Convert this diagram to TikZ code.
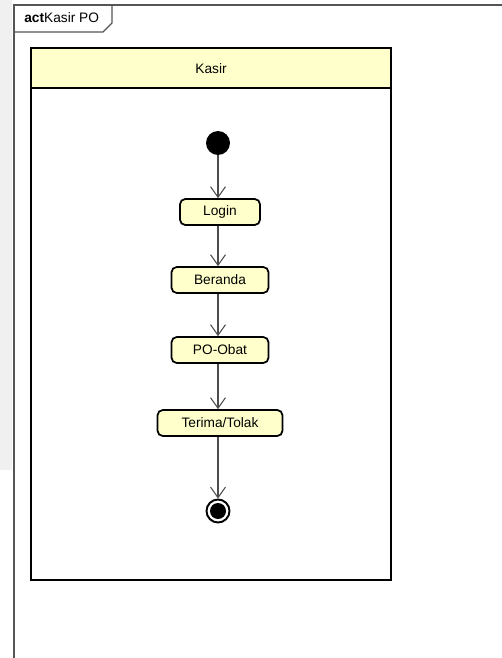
\documentclass[tikz,border=0pt]{standalone}
\usepackage{fontspec}
\setmainfont{Liberation Sans}
\usetikzlibrary{arrows.meta}
\definecolor{umlyellow}{HTML}{FFFFCC}
\definecolor{framegray}{HTML}{555555}
\begin{document}
\begin{tikzpicture}[
    x=0.02cm, y=-0.02cm,
    action/.style={draw, line width=1pt, rounded corners=3pt, fill=umlyellow,
                   minimum height=0.52cm, inner sep=0pt,
                   font=\fontsize{7.8}{9}\selectfont},
    flow/.style={-{Straight Barb[length=6pt,width=8.5pt]}, draw=black!70, semithick}
  ]
  \useasboundingbox (0,0) rectangle (502,658);
  % screenshot edge
  \fill[black!6] (0,0) rectangle (12,470);
  % diagram frame
  \draw[framegray, line width=0.9pt] (14,658) -- (14,5) -- (502,5);
  \draw[framegray, line width=0.7pt] (14,32) -- (103,32) -- (112,23) -- (112,5);
  \node[anchor=west, font=\fontsize{7.8}{9}\selectfont, inner sep=0pt] (title)
    at (24,18) {\textbf{act}Kasir PO};
  % Kasir lane
  \draw[line width=1.1pt, fill=umlyellow] (31,48) rectangle (391,88);
  \draw[line width=1.1pt] (31,88) rectangle (391,580);
  \node[font=\fontsize{7.8}{9}\selectfont] (lane) at (211,69) {Kasir};
  % start and end
  \node[circle, fill=black, minimum size=0.48cm, inner sep=0pt] (start) at (218,143) {};
  \node[circle, draw=black, line width=1.1pt, fill=white, minimum size=0.46cm,
        inner sep=0pt] (stop) at (218,511) {};
  \fill[black] (stop.center) circle (0.16cm);
  % actions
  \node[action, minimum width=1.6cm] (login) at (220,212) {Login};
  \node[action, minimum width=1.94cm] (beranda) at (220,280) {Beranda};
  \node[action, minimum width=1.94cm] (po) at (220,350) {PO-Obat};
  \node[action, minimum width=2.5cm] (terima) at (220,423) {Terima/Tolak};
  % control flow
  \draw[flow] (start) -- (login.north -| start);
  \draw[flow] (login.south -| start) -- (beranda.north -| start);
  \draw[flow] (beranda.south -| start) -- (po.north -| start);
  \draw[flow] (po.south -| start) -- (terima.north -| start);
  \draw[flow] (terima.south -| start) -- (stop.north);
\end{tikzpicture}
\end{document}
